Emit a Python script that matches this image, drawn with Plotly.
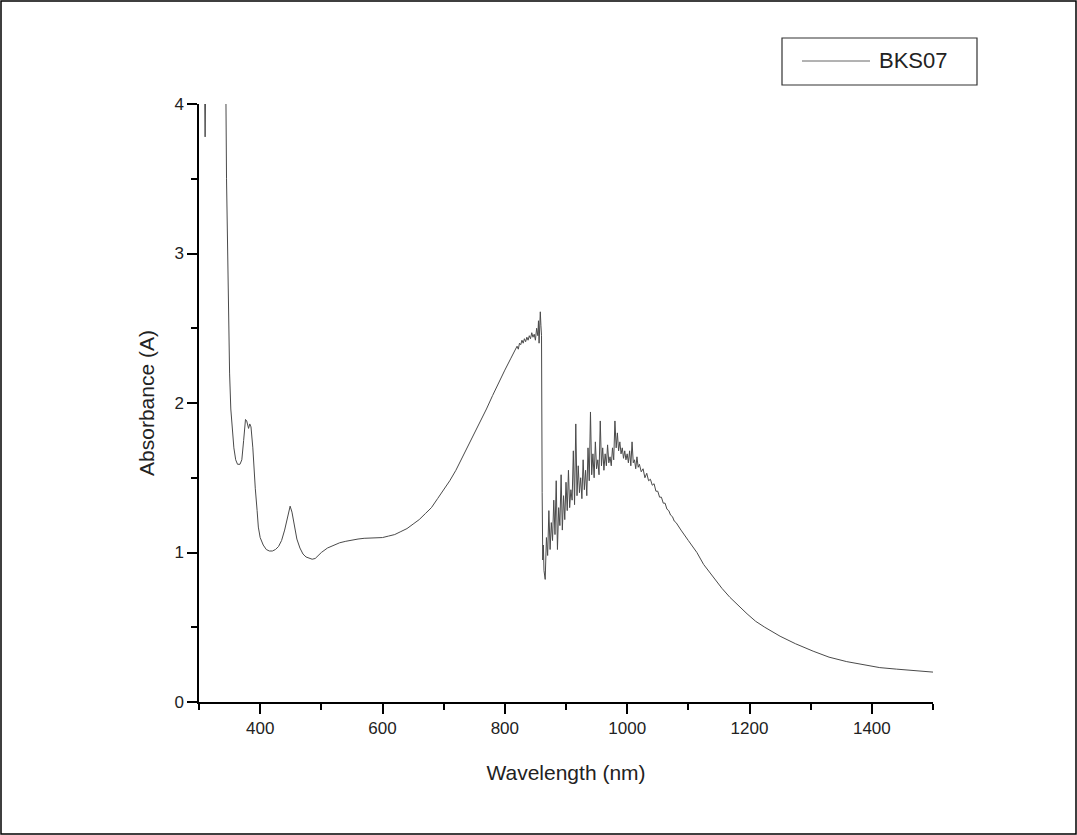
import plotly.graph_objects as go

# wavelength (nm) and absorbance (A)
wl_uv = [300, 308, 310, 312, 340, 344, 345, 347, 348, 350, 352, 355, 357, 360, 363, 367,
         370, 373, 376, 378, 381, 383, 385, 388, 390, 392, 395, 397, 400, 405, 410, 415,
         420, 425, 430, 435, 440, 445, 449, 452, 456, 460, 465, 470, 475, 480, 485, 490,
         495, 500]
abs_uv = [4.6, 4.6, 3.78, 4.6, 4.6, 4.05, 3.5, 2.9, 2.57, 2.2, 1.96, 1.8, 1.7, 1.62, 1.59, 1.59,
          1.62, 1.75, 1.89, 1.88, 1.83, 1.86, 1.84, 1.7, 1.55, 1.43, 1.28, 1.17, 1.1, 1.05, 1.02, 1.01,
          1.01, 1.02, 1.04, 1.08, 1.15, 1.24, 1.31, 1.27, 1.17, 1.09, 1.03, 0.99, 0.97, 0.96, 0.955, 0.96,
          0.98, 1.0]

wl_vis = [510, 520, 530, 540, 550, 560, 570, 580, 590, 600, 610, 620, 630, 640, 650, 660,
          670, 680, 690, 700, 710, 720, 730, 740, 750, 760, 770, 780, 790, 800, 810, 815,
          818, 820, 822, 824, 826, 828, 830, 832, 834, 836, 838, 840, 842, 844, 846, 848,
          850, 852, 854, 855, 856, 857, 858, 859, 860, 861, 862, 863, 864]
abs_vis = [1.03, 1.05, 1.065, 1.075, 1.085, 1.09, 1.095, 1.095, 1.1, 1.1, 1.11, 1.12, 1.14, 1.16, 1.19, 1.22,
           1.26, 1.3, 1.36, 1.42, 1.48, 1.55, 1.63, 1.71, 1.8, 1.88, 1.96, 2.05, 2.14, 2.22, 2.3, 2.34,
           2.36, 2.38, 2.36, 2.4, 2.39, 2.42, 2.4, 2.43, 2.41, 2.44, 2.42, 2.45, 2.43, 2.47, 2.44, 2.46,
           2.42, 2.5, 2.45, 2.55, 2.4, 2.58, 2.61, 2.52, 2.45, 1.4, 0.95, 1.05, 0.88]

wl_nir = [866, 868, 870, 872, 874, 876, 878, 880, 882, 884, 886, 888, 890, 892, 894, 896,
          898, 900, 902, 904, 906, 908, 910, 912, 914, 916, 918, 920, 922, 924, 926, 928,
          930, 932, 934, 936, 938, 940, 942, 944, 946, 948, 950, 952, 954, 956, 958, 960,
          962, 964, 966, 968, 970, 972, 974, 976, 978, 980, 982, 984, 986, 988, 990, 992,
          994, 996, 998, 1000, 1002, 1004, 1006, 1008, 1010, 1012, 1014, 1016, 1018, 1020, 1023, 1026,
          1029, 1032, 1035, 1038, 1041, 1044, 1047, 1050, 1053, 1056, 1059, 1062, 1065, 1068, 1071, 1074,
          1077, 1080, 1084, 1088]
abs_nir = [0.82, 1.1, 0.98, 1.28, 1.02, 1.2, 1.08, 1.35, 1.12, 1.48, 1.02, 1.3, 1.18, 1.52, 1.15, 1.38,
           1.22, 1.47, 1.28, 1.55, 1.3, 1.42, 1.35, 1.68, 1.32, 1.86, 1.38, 1.58, 1.4, 1.5, 1.36, 1.62,
           1.42, 1.55, 1.38, 1.7, 1.48, 1.94, 1.52, 1.66, 1.5, 1.74, 1.56, 1.62, 1.52, 1.88, 1.58, 1.7,
           1.55, 1.66, 1.58, 1.72, 1.6, 1.64, 1.58, 1.7, 1.62, 1.88, 1.7, 1.8, 1.68, 1.74, 1.66, 1.7,
           1.63, 1.68, 1.62, 1.66, 1.6, 1.68, 1.58, 1.74, 1.6, 1.62, 1.56, 1.64, 1.57, 1.59, 1.54, 1.56,
           1.5, 1.53, 1.48, 1.49, 1.45, 1.46, 1.41, 1.41, 1.37, 1.37, 1.33, 1.33, 1.29, 1.28, 1.25, 1.24,
           1.21, 1.2, 1.17, 1.15]

wl_tail = [1100, 1114, 1125, 1140, 1155, 1168, 1180, 1196, 1210, 1225, 1250, 1275, 1304, 1330, 1359, 1385,
           1413, 1440, 1468, 1500]
abs_tail = [1.08, 1.0, 0.92, 0.84, 0.76, 0.7, 0.65, 0.59, 0.54, 0.5, 0.44, 0.39, 0.34, 0.3, 0.27, 0.25,
            0.23, 0.22, 0.21, 0.2]

wavelength = wl_uv + wl_vis + wl_nir + wl_tail
absorbance = abs_uv + abs_vis + abs_nir + abs_tail

series_name = "BKS07"

W, H = 1077, 835
ML, MR, MT, MB = 199, 144, 104, 133
PW, PH = W - ML - MR, H - MT - MB


def px(x):
    return (x - ML) / PW


def py(y):
    return (H - MB - y) / PH


font = "Arial, Liberation Sans, sans-serif"

fig = go.Figure()
fig.add_trace(go.Scatter(x=wavelength, y=absorbance, mode="lines", name=series_name,
                         line=dict(color="#4a4a4a", width=1), showlegend=False))

axis_common = dict(showline=True, linecolor="black", linewidth=1.5, showgrid=False, zeroline=False,
                   ticks="outside", ticklen=10, tickwidth=1.5, tickcolor="black",
                   tickfont=dict(family=font, size=17, color="#222"),
                   title_font=dict(family=font, size=21, color="#222"))

fig.update_xaxes(range=[300, 1500], tick0=400, dtick=200,
                 minor=dict(dtick=100, tick0=300, ticks="outside", ticklen=6, tickwidth=1.5, tickcolor="black"),
                 title_text="Wavelength (nm)", title_standoff=28, **axis_common)
fig.update_yaxes(range=[0, 4], dtick=1,
                 minor=dict(dtick=0.5, ticks="outside", ticklen=6, tickwidth=1.5, tickcolor="black"),
                 title_text="Absorbance (A)", title_standoff=14, **axis_common)

# hand-made legend box like the original
fig.add_shape(type="rect", xref="paper", yref="paper", x0=px(782), x1=px(977), y0=py(85), y1=py(38),
              line=dict(color="#333", width=1.2), fillcolor="white")
fig.add_shape(type="line", xref="paper", yref="paper", x0=px(802), x1=px(870), y0=py(61), y1=py(61),
              line=dict(color="#666", width=1))
fig.add_annotation(xref="paper", yref="paper", x=px(877), y=py(61), text=series_name, showarrow=False,
                   xanchor="left", yanchor="middle", font=dict(family=font, size=22, color="#222"))

# outer frame
fig.add_shape(type="rect", xref="paper", yref="paper", x0=px(1), x1=px(1076), y0=py(834), y1=py(1),
              line=dict(color="black", width=1.5))

fig.update_layout(width=W, height=H, margin=dict(l=ML, r=MR, t=MT, b=MB),
                  plot_bgcolor="white", paper_bgcolor="white")

fig.write_html("out.html", config={"displayModeBar": False},
               post_script="document.body.style.margin='0';")
